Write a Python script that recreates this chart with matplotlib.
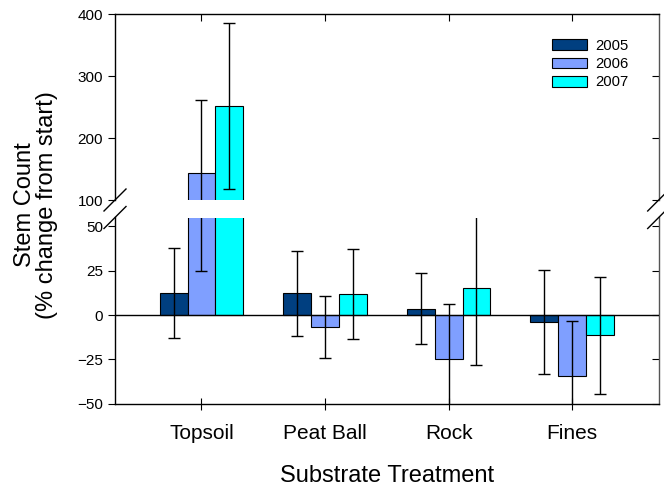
import numpy as np
import matplotlib
matplotlib.use('Agg')
import matplotlib.pyplot as plt
from matplotlib.lines import Line2D

plt.rcParams['font.family'] = ['Liberation Sans', 'DejaVu Sans']

categories = ['Topsoil', 'Peat Ball', 'Rock', 'Fines']
years = ['2005', '2006', '2007']
means_2005 = [12.3, 12.2, 3.6, -4.1]
means_2006 = [143, -6.9, -24.6, -34.2]
means_2007 = [251, 12.0, 15.1, -11.3]
err_2005 = [25.5, 24.0, 20.0, 29.3]
err_2006 = [118, 17.6, 30.6, 31.0]
err_2007 = [134, 25.4, 43.3, 33.0]
colors = ['#003f80', '#7f9fff', '#00ffff']

means = [means_2005, means_2006, means_2007]
errs = [err_2005, err_2006, err_2007]

W, H = 664, 487
fig = plt.figure(figsize=(W / 100, H / 100), dpi=100)
left, right = 115 / W, 658.7 / W
ax_top = fig.add_axes([left, 1 - 200 / H, right - left, (200 - 14) / H])
ax_bot = fig.add_axes([left, 1 - 403.7 / H, right - left, (403.7 - 217.5) / H])

x = np.arange(len(categories))
width = 0.225
for ax in (ax_top, ax_bot):
    for i in range(3):
        ax.bar(x + (i - 1) * width, means[i], width, color=colors[i],
               edgecolor='black', linewidth=0.8, label=years[i], zorder=2)
        ax.errorbar(x + (i - 1) * width, means[i], yerr=errs[i], fmt='none',
                    ecolor='black', elinewidth=1, capsize=4, capthick=1, zorder=3)
    ax.set_xlim(-0.7, 3.7)
    for s in ax.spines.values():
        s.set_linewidth(1)

ax_top.set_ylim(100, 400)
ax_top.set_yticks([100, 200, 300, 400])
ax_bot.set_ylim(-50, 55)
ax_bot.set_yticks([-50, -25, 0, 25, 50])
ax_bot.axhline(0, color='black', linewidth=1, zorder=4)

# broken axis: hide the facing spines
ax_top.spines['bottom'].set_visible(False)
ax_bot.spines['top'].set_visible(False)
ax_top.spines['right'].set_color('#555555')
ax_bot.spines['right'].set_color('#555555')

ax_top.tick_params(axis='x', bottom=False, labelbottom=False, top=True, direction='in', length=5)
ax_top.set_xticks(x)
ax_bot.set_xticks(x)
ax_bot.set_xticklabels(categories, fontsize=15)
ax_bot.tick_params(axis='x', direction='inout', length=9, pad=10)
for ax in (ax_top, ax_bot):
    ax.tick_params(axis='y', left=True, right=True, labelsize=11, length=5, direction='out')
    # right side ticks point inward
    for t in ax.yaxis.get_major_ticks():
        t.tick2line.set_marker(matplotlib.markers.TICKLEFT)
        t.tick2line.set_markersize(5)

ax_bot.set_xlabel('Substrate Treatment', fontsize=17, labelpad=16)
fig.text(0.0535, 0.579, 'Stem Count\n(% change from start)', rotation=90,
         ha='center', va='center', fontsize=17, linespacing=1.0)

# break marks
d = 11
for px in (115, 658.7):
    for py in (200, 217.5):
        fig.add_artist(Line2D([(px - d) / W, (px + d) / W],
                              [1 - (py + d) / H, 1 - (py - d) / H],
                              color='black', linewidth=1))

ax_top.legend(loc='upper left', bbox_to_anchor=(552 / W, 1 - 39 / H),
              bbox_transform=fig.transFigure, frameon=False, fontsize=10.7,
              handlelength=2.35, handleheight=0.74, labelspacing=0.28,
              handletextpad=0.54, borderpad=0, borderaxespad=0)

fig.savefig('out.png', dpi=100)
